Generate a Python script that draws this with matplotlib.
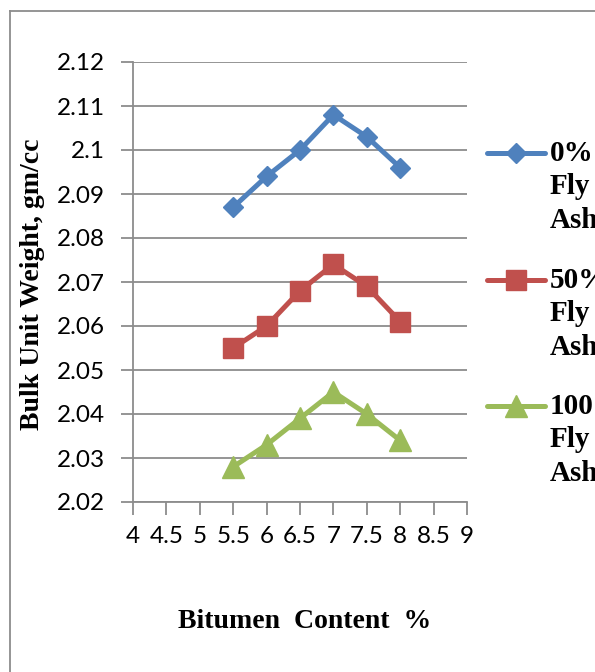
import matplotlib.pyplot as plt
from matplotlib.lines import Line2D

bitumen = [5.5, 6, 6.5, 7, 7.5, 8]
fa_0 = [2.087, 2.094, 2.100, 2.108, 2.103, 2.096]
fa_50 = [2.055, 2.060, 2.068, 2.074, 2.069, 2.061]
fa_100 = [2.028, 2.033, 2.039, 2.045, 2.040, 2.034]
series_names = ["0%\nFly\nAsh", "50%\nFly\nAsh", "100%\nFly\nAsh"]

x_ticks = [4, 4.5, 5, 5.5, 6, 6.5, 7, 7.5, 8, 8.5, 9]
x_ticklabels = ["4", "4.5", "5", "5.5", "6", "6.5", "7", "7.5", "8", "8.5", "9"]
y_ticks = [2.02, 2.03, 2.04, 2.05, 2.06, 2.07, 2.08, 2.09, 2.1, 2.11, 2.12]
y_ticklabels = ["2.02", "2.03", "2.04", "2.05", "2.06", "2.07", "2.08", "2.09", "2.1", "2.11", "2.12"]

colors = ["#4F81BD", "#C0504D", "#9BBB59"]
markers = ["D", "s", "^"]
msizes = [10, 15, 15.5]

W, H = 595, 672
fig = plt.figure(figsize=(W / 100, H / 100), dpi=100)
ax = fig.add_axes([133 / W, 1 - 502 / H, (467 - 133) / W, (502 - 62) / H])

grid_c = "#8C8C8C"
for ys, c, m, ms in zip([fa_0, fa_50, fa_100], colors, markers, msizes):
    ax.plot(bitumen, ys, color=c, lw=3.6, marker=m, ms=ms, mec=c, mfc=c,
            solid_joinstyle="round", zorder=3)

ax.set_xlim(4, 9)
ax.set_ylim(2.02, 2.12)
ax.set_xticks(x_ticks)
ax.set_xticklabels(x_ticklabels, fontfamily="Lato", fontsize=17.5)
ax.set_yticks(y_ticks)
ax.set_yticklabels(y_ticklabels, fontfamily="Lato", fontsize=17.5)
ax.yaxis.grid(True, color=grid_c, lw=1.3)
ax.set_axisbelow(True)
for s in ["top", "right"]:
    ax.spines[s].set_visible(False)
for s in ["left", "bottom"]:
    ax.spines[s].set_color(grid_c)
    ax.spines[s].set_linewidth(1.3)
ax.tick_params(axis="both", direction="out", length=9, width=1.3, color=grid_c)
ax.tick_params(axis="y", pad=11)
ax.tick_params(axis="x", pad=8)

serif_bold = dict(fontfamily="Liberation Serif", fontweight="bold", fontsize=20)
fig.text(0.055, 1 - 284 / H, "Bulk Unit Weight, gm/cc", rotation=90,
         ha="center", va="center", **serif_bold)
fig.text(305 / W, 1 - 621 / H, "Bitumen  Content  %", ha="center", va="center",
         **serif_bold)

# legend drawn by hand on the right, text runs off the edge
legend_y = [153, 280, 406]
for name, c, m, ms, ly in zip(series_names, colors, markers, msizes, legend_y):
    yf = 1 - ly / H
    fig.add_artist(Line2D([487 / W, 545 / W], [yf, yf], color=c, lw=3.6,
                          solid_capstyle="round"))
    fig.add_artist(Line2D([516 / W], [yf], color=c, marker=m, ms=ms, mec=c, mfc=c))
    fig.text(550 / W, 1 - (ly - 13) / H, name, ha="left", va="top",
             linespacing=1.3, fontfamily="Liberation Serif", fontweight="bold",
             fontsize=21)

# chart frame
fig.add_artist(Line2D([10 / W, 1.0], [1 - 11 / H, 1 - 11 / H], color="#8C8C8C", lw=1.3))
fig.add_artist(Line2D([10 / W, 10 / W], [1 - 11 / H, 0], color="#8C8C8C", lw=1.3))

fig.savefig("out.png", dpi=100)
